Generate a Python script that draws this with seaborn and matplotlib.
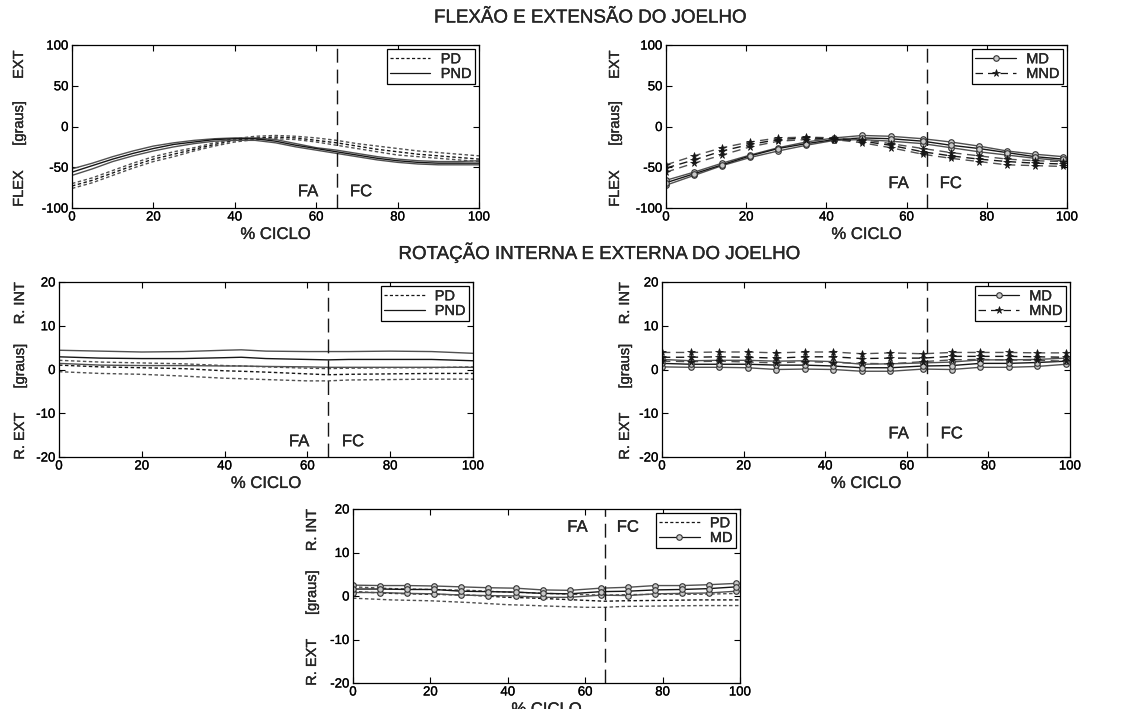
import matplotlib
matplotlib.use("Agg")
import matplotlib.pyplot as plt
import matplotlib.patheffects as pe
from matplotlib.lines import Line2D
import seaborn as sns

# ---------------- data (mean and +/- 1 SD bands) ----------------
# Knee flexion/extension, continuous curves (PD / PND)
flex_p_x = [0, 5, 10, 15, 20, 25, 30, 35, 40, 45, 50, 55, 60, 65, 70, 75, 80, 85, 90, 95, 100]
flex_pnd_upper = [-52, -45, -37, -30, -24, -20, -17, -15, -14, -14, -16, -21, -26, -29, -33, -37, -40, -42, -43, -43, -42]
flex_pnd_mean = [-56, -48, -40, -33, -27, -22, -19, -16, -15, -15, -18, -23, -27, -31, -35, -39, -42, -44, -45, -45, -45]
flex_pnd_lower = [-60, -52, -43, -36, -30, -25, -21, -18, -17, -17, -20, -25, -29, -33, -37, -41, -44, -46, -47, -47, -47]
flex_pd_upper = [-70, -63, -54, -45, -37, -31, -26, -20, -15, -12, -11, -12, -14, -17, -21, -24, -27, -30, -32, -34, -36]
flex_pd_mean = [-73, -66, -57, -48, -40, -34, -28, -22, -17, -14, -13, -14, -17, -20, -24, -28, -31, -34, -36, -38, -40]
flex_pd_lower = [-76, -69, -60, -51, -43, -37, -30, -24, -19, -16, -15, -16, -19, -23, -27, -31, -35, -37, -39, -41, -43]

# Knee flexion/extension, sampled curves (MD / MND)
flex_m_x = [0, 7, 14, 21, 28, 35, 42, 49, 56, 64, 71, 78, 85, 92, 99]
flex_md_upper = [-66, -56, -45, -35, -26, -19, -14, -11, -12, -15, -19, -24, -30, -34, -37]
flex_md_mean = [-69, -58, -47, -36, -27, -21, -16, -14, -15, -18, -23, -27, -32, -37, -40]
flex_md_lower = [-72, -60, -48, -38, -30, -23, -17, -16, -18, -21, -26, -31, -35, -39, -42]
flex_mnd_upper = [-47, -36, -26, -19, -14, -13, -14, -16, -21, -27, -32, -36, -40, -42, -43]
flex_mnd_mean = [-51, -41, -30, -22, -16, -14, -15, -18, -23, -31, -36, -40, -43, -45, -46]
flex_mnd_lower = [-56, -45, -35, -25, -18, -16, -16, -20, -26, -34, -39, -43, -47, -48, -49]

# Knee internal/external rotation, continuous curves (PD / PND)
rot_p_x = [0, 10, 20, 30, 40, 44, 50, 60, 65, 70, 80, 90, 100]
rot_pnd_upper = [4.4, 4.2, 4.0, 4.1, 4.4, 4.5, 4.2, 4.1, 4.1, 4.1, 4.2, 4.1, 3.7]
rot_pnd_mean = [2.9, 2.6, 2.5, 2.5, 2.7, 2.8, 2.5, 2.3, 2.2, 2.3, 2.3, 2.3, 2.0]
rot_pnd_lower = [1.4, 1.0, 0.9, 0.9, 0.8, 0.8, 0.7, 0.6, 0.5, 0.5, 0.5, 0.5, 0.5]
rot_pd_upper = [2.1, 1.7, 1.5, 1.3, 0.9, 0.8, 0.6, 0.3, 0.2, 0.3, 0.4, 0.4, 0.6]
rot_pd_mean = [1.0, 0.6, 0.4, 0.2, -0.3, -0.4, -0.6, -1.0, -1.2, -1.1, -1.0, -0.9, -0.9]
rot_pd_lower = [-0.5, -0.9, -1.1, -1.5, -2.0, -2.1, -2.3, -2.6, -2.6, -2.4, -2.3, -2.2, -2.2]

# Knee internal/external rotation, sampled curves (MD / MND)
rot_m_x = [0, 7, 14, 21, 28, 35, 42, 49, 56, 64, 71, 78, 85, 92, 99]
rot_md_upper = [2.3, 2.0, 2.1, 2.1, 1.9, 2.0, 1.8, 1.2, 1.3, 1.5, 1.7, 2.2, 2.2, 2.3, 2.6]
rot_md_mean = [1.4, 1.2, 1.2, 1.2, 1.0, 1.0, 0.8, 0.4, 0.4, 0.8, 0.9, 1.4, 1.4, 1.6, 1.9]
rot_md_lower = [0.6, 0.5, 0.5, 0.4, 0.0, 0.1, 0.0, -0.4, -0.4, 0.1, 0.0, 0.5, 0.5, 0.7, 1.2]
rot_mnd_upper = [3.9, 3.9, 4.0, 4.0, 3.8, 4.0, 4.0, 3.6, 3.8, 3.6, 3.9, 3.9, 3.9, 3.8, 3.8]
rot_mnd_mean = [2.8, 2.8, 2.9, 2.8, 2.6, 2.9, 2.9, 2.5, 2.6, 2.6, 3.0, 3.0, 3.0, 2.9, 2.8]
rot_mnd_lower = [1.9, 1.8, 1.9, 1.7, 1.5, 1.8, 1.6, 1.4, 1.3, 1.8, 2.2, 2.3, 2.2, 2.1, 1.9]

# Rotation, second MD sample shown against PD
rot_md2_upper = [2.5, 2.4, 2.4, 2.3, 2.1, 1.9, 1.8, 1.4, 1.3, 1.8, 2.0, 2.4, 2.4, 2.6, 2.9]
rot_md2_mean = [1.6, 1.6, 1.5, 1.5, 1.1, 1.0, 0.9, 0.6, 0.5, 1.0, 1.1, 1.4, 1.5, 1.7, 2.1]
rot_md2_lower = [0.8, 0.8, 0.6, 0.5, 0.2, 0.1, 0.0, -0.3, -0.3, 0.2, 0.1, 0.5, 0.6, 0.7, 1.1]

x_ticks = [0, 20, 40, 60, 80, 100]
flex_ticks = [-100, -50, 0, 50, 100]
rot_ticks = [-20, -10, 0, 10, 20]
phase_split = 65

# ---------------- style ----------------
sns.set_theme(style="ticks")
plt.rcParams["font.family"] = ["Liberation Sans", "DejaVu Sans"]
plt.rcParams["axes.unicode_minus"] = False
plt.rcParams["xtick.direction"] = "in"
plt.rcParams["ytick.direction"] = "in"

INK = "#161616"
GREY = "#505050"
SHORT_DASH = (0, (2.5, 1.8))
LONG_DASH = (0, (6, 4))
CIRCLE = dict(marker="o", markersize=4, markerfacecolor="#c8c8c8",
              markeredgecolor="#333333", markeredgewidth=0.8)
STAR = dict(marker="*", markersize=5.5, markerfacecolor=INK,
            markeredgecolor=INK, markeredgewidth=0.5)
HEAVY = [pe.withStroke(linewidth=0.2, foreground="black")]

fig = plt.figure(figsize=(11.29, 7.09), dpi=100)
W, H = 1129, 709


def add_ax(left, top, right, bottom):
    return fig.add_axes([left / W, 1 - bottom / H, (right - left) / W, (bottom - top) / H])


def band(ax, x, upper, mean, lower, ls, mk=None):
    for y, c in ((upper, GREY), (lower, GREY), (mean, INK)):
        kw = dict(mk) if mk else {}
        sns.lineplot(x=x, y=y, ax=ax, color=c, linestyle=ls, linewidth=1.0,
                     estimator=None, sort=False, legend=False, **kw)


def frame(ax, ylim, yticks, words, ylab_dx, phase_y):
    ax.set_xlim(0, 100)
    ax.set_ylim(*ylim)
    ax.set_xticks(x_ticks)
    ax.set_yticks(yticks)
    ax.tick_params(axis="both", which="both", direction="in", length=4, width=0.8,
                   top=True, right=True, labelsize=9.5, pad=2.5, colors="black")
    for lab in ax.get_xticklabels() + ax.get_yticklabels():
        lab.set_path_effects(HEAVY)
    for s in ax.spines.values():
        s.set_visible(True)
        s.set_color("black")
        s.set_linewidth(0.9)
    ax.set_xlabel("% CICLO", fontsize=12, labelpad=2.5, path_effects=HEAVY)
    ax.set_ylabel("")
    ax.axvline(phase_split, color=INK, linestyle=(0, (10, 5)), linewidth=1.0)
    ax.text(58, phase_y, "FA", fontsize=12, ha="center", va="center", path_effects=HEAVY)
    ax.text(71, phase_y, "FC", fontsize=12, ha="center", va="center", path_effects=HEAVY)
    for frac, w in zip((0.12, 0.52, 0.88), words):
        ax.annotate(w, xy=(0, frac), xycoords="axes fraction",
                    xytext=(ylab_dx * 0.72, 0), textcoords="offset points",
                    rotation=90, ha="center", va="center", fontsize=10.5,
                    path_effects=HEAVY)


def legend(ax, handles):
    lg = ax.legend(handles=handles, loc="upper right", fontsize=10.5, frameon=True,
                   fancybox=False, edgecolor="black", framealpha=1,
                   handlelength=2.8, handletextpad=0.7, borderpad=0.2,
                   labelspacing=0.05, borderaxespad=0.3, numpoints=1)
    lg.get_frame().set_linewidth(0.9)
    for t in lg.get_texts():
        t.set_path_effects(HEAVY)


h_pd = Line2D([], [], color=INK, linestyle=SHORT_DASH, linewidth=0.9, label="PD")
h_pnd = Line2D([], [], color=INK, linestyle="-", linewidth=0.9, label="PND")
h_md = Line2D([], [], color=INK, linestyle="-", linewidth=0.9, label="MD", **CIRCLE)
h_mnd = Line2D([], [], color=INK, linestyle=LONG_DASH, linewidth=0.9, label="MND", **STAR)

flex_words = ("FLEX", "[graus]", "EXT")
rot_words = ("R. EXT", "[graus]", "R. INT")

# Flexion / extension
ax1 = add_ax(72, 45, 479, 208)
band(ax1, flex_p_x, flex_pd_upper, flex_pd_mean, flex_pd_lower, SHORT_DASH)
band(ax1, flex_p_x, flex_pnd_upper, flex_pnd_mean, flex_pnd_lower, "-")
frame(ax1, (-100, 100), flex_ticks, flex_words, -53, -80)
legend(ax1, [h_pd, h_pnd])

ax2 = add_ax(666, 45, 1067, 208)
band(ax2, flex_m_x, flex_md_upper, flex_md_mean, flex_md_lower, "-", CIRCLE)
band(ax2, flex_m_x, flex_mnd_upper, flex_mnd_mean, flex_mnd_lower, LONG_DASH, STAR)
frame(ax2, (-100, 100), flex_ticks, flex_words, -51, -70)
legend(ax2, [h_md, h_mnd])

# Internal / external rotation
ax3 = add_ax(59, 282, 473, 457)
band(ax3, rot_p_x, rot_pd_upper, rot_pd_mean, rot_pd_lower, SHORT_DASH)
band(ax3, rot_p_x, rot_pnd_upper, rot_pnd_mean, rot_pnd_lower, "-")
frame(ax3, (-20, 20), rot_ticks, rot_words, -39, -16.5)
legend(ax3, [h_pd, h_pnd])

ax4 = add_ax(662, 282, 1070, 457)
band(ax4, rot_m_x, rot_md_upper, rot_md_mean, rot_md_lower, "-", CIRCLE)
band(ax4, rot_m_x, rot_mnd_upper, rot_mnd_mean, rot_mnd_lower, LONG_DASH, STAR)
frame(ax4, (-20, 20), rot_ticks, rot_words, -37, -14.7)
legend(ax4, [h_md, h_mnd])

ax5 = add_ax(353, 509, 740, 683)
band(ax5, rot_p_x, rot_pd_upper, rot_pd_mean, rot_pd_lower, SHORT_DASH)
band(ax5, rot_m_x, rot_md2_upper, rot_md2_mean, rot_md2_lower, "-", CIRCLE)
frame(ax5, (-20, 20), rot_ticks, rot_words, -41, 15.8)
legend(ax5, [h_pd, h_md])

fig.text(590 / W, 1 - 18 / H, "FLEXÃO E EXTENSÃO DO JOELHO", ha="center", va="center",
         fontsize=13.5, path_effects=HEAVY)
fig.text(599 / W, 1 - 253 / H, "ROTAÇÃO INTERNA E EXTERNA DO JOELHO", ha="center", va="center",
         fontsize=13.5, path_effects=HEAVY)

fig.savefig("out.png", dpi=100, facecolor="white")
